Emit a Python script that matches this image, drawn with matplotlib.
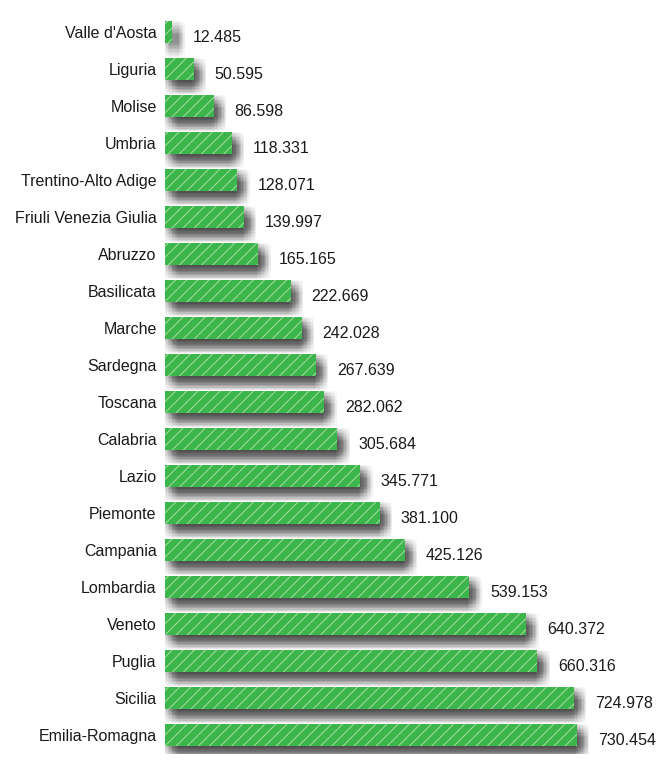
import matplotlib
matplotlib.use('Agg')
import matplotlib.pyplot as plt
import matplotlib.patheffects as pe
import numpy as np

plt.rcParams['font.family'] = ['Liberation Sans', 'DejaVu Sans']

regions = ["Valle d'Aosta", 'Liguria', 'Molise', 'Umbria', 'Trentino-Alto Adige',
           'Friuli Venezia Giulia', 'Abruzzo', 'Basilicata', 'Marche', 'Sardegna',
           'Toscana', 'Calabria', 'Lazio', 'Piemonte', 'Campania', 'Lombardia',
           'Veneto', 'Puglia', 'Sicilia', 'Emilia-Romagna']
values = [12.485, 50.595, 86.598, 118.331, 128.071, 139.997, 165.165, 222.669,
          242.028, 267.639, 282.062, 305.684, 345.771, 381.100, 425.126, 539.153,
          640.372, 660.316, 724.978, 730.454]
labels = ['12.485', '50.595', '86.598', '118.331', '128.071', '139.997', '165.165',
          '222.669', '242.028', '267.639', '282.062', '305.684', '345.771', '381.100',
          '425.126', '539.153', '640.372', '660.316', '724.978', '730.454']

GREEN = '#3cb54a'

fig = plt.figure(figsize=(6.66, 7.72), dpi=100)
ax = fig.add_axes([165 / 666, 1 - 753.5 / 772, 1 - 165 / 666, (753.5 - 13.5) / 772])

ys = np.arange(len(regions))
BAR_H = 0.62

# soft drop shadow: many faint offset copies (no hatch), drawn under the bars
shadow = []
for dx in np.arange(-1, 9.5, 1.0):
    for dy in np.arange(0, -10.5, -1.0):
        shadow.append(pe.SimplePatchShadow(offset=(dx, dy), shadow_rgbFace='black',
                                           alpha=0.0065))
sb = ax.barh(ys, values, height=BAR_H, color='none', linewidth=0, zorder=2)
for b in sb:
    b.set_path_effects(shadow)

plt.rcParams['hatch.linewidth'] = 0.7
bars = ax.barh(ys, values, height=BAR_H, color=GREEN, edgecolor='#a6dfa6',
               hatch='///', linewidth=0, zorder=3)

for y, v, lab in zip(ys, values, labels):
    ax.annotate(lab, (v, y), xytext=(15, -4), textcoords='offset points',
                ha='left', va='center', fontsize=11.5, color='#1a1a1a', zorder=4)

ax.set_yticks(ys)
ax.set_yticklabels(regions, fontsize=11.5, color='#1a1a1a')
ax.set_ylim(len(regions) - 0.5, -0.5)
ax.set_xlim(0, (666 - 165) / 0.564)
ax.set_xticks([])
ax.tick_params(axis='y', length=0, pad=6)
for s in ax.spines.values():
    s.set_visible(False)

fig.savefig('out.png', dpi=100)
